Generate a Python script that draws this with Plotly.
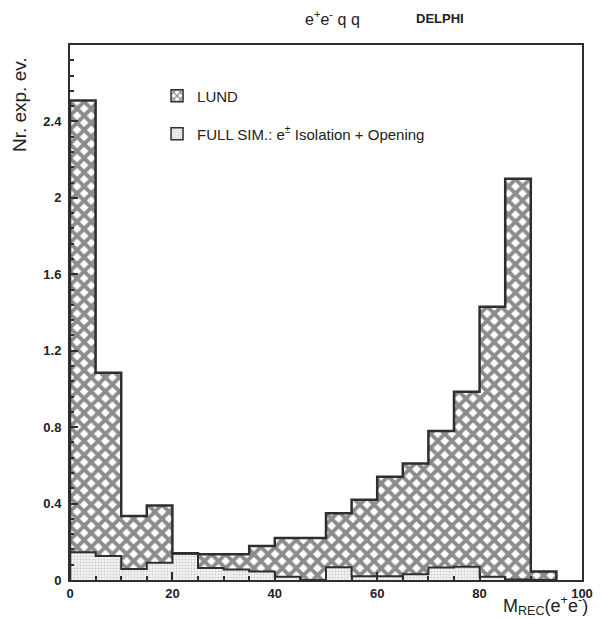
import plotly.graph_objects as go

# ---- data ----
bin_edges = [0, 5, 10, 15, 20, 25, 30, 35, 40, 45, 50, 55, 60, 65, 70, 75, 80, 85, 90, 95]
lund = [2.51, 1.085, 0.335, 0.39, 0.14, 0.135, 0.135, 0.178, 0.22, 0.22,
        0.35, 0.42, 0.54, 0.61, 0.78, 0.985, 1.43, 2.10, 0.045]
fullsim = [0.145, 0.125, 0.057, 0.09, 0.138, 0.063, 0.055, 0.045, 0.017, 0.0,
           0.067, 0.02, 0.02, 0.03, 0.065, 0.07, 0.017, 0.003, 0.0]
y_ticks = [0, 0.4, 0.8, 1.2, 1.6, 2, 2.4]
y_tick_text = ["0", "0.4", "0.8", "1.2", "1.6", "2", "2.4"]
x_ticks = [0, 20, 40, 60, 80, 100]
x_tick_text = ["0", "20", "40", "60", "80", "100"]
names = ["LUND", "FULL SIM.: e<sup>±</sup> Isolation + Opening"]

bin_w = 5
centers = [e + bin_w / 2 for e in bin_edges[:-1]]


def step_xy(vals):
    xs = [bin_edges[0]] + bin_edges[:-1] + [bin_edges[-1], bin_edges[-1]]
    ys = [0] + list(vals) + [vals[-1], 0]
    return xs, ys


line_col = "#2e2e2e"
hatch = dict(shape="x", fgcolor="#1a1a1a", bgcolor="white", size=10, solidity=0.62)
dots = dict(shape=".", fgcolor="#a8a8a8", bgcolor="white", size=3, solidity=0.5)

fig = go.Figure()

fig.add_trace(go.Bar(x=centers, y=lund, width=bin_w, showlegend=False,
                     marker=dict(color="white", line=dict(width=0), pattern=hatch)))
fig.add_trace(go.Bar(x=centers, y=fullsim, width=bin_w, showlegend=False,
                     marker=dict(color="white", line=dict(width=0), pattern=dots)))

xs, ys = step_xy(lund)
fig.add_trace(go.Scatter(x=xs, y=ys, mode="lines", line=dict(shape="hv", color=line_col, width=2.5),
                         showlegend=False, hoverinfo="skip"))
xs, ys = step_xy(fullsim)
fig.add_trace(go.Scatter(x=xs, y=ys, mode="lines", line=dict(shape="hv", color=line_col, width=2),
                         showlegend=False, hoverinfo="skip"))

# legend-only entries
fig.add_trace(go.Bar(x=[None], y=[None], name=names[0], legend="legend",
                     marker=dict(color="white", line=dict(width=1.5, color=line_col),
                                 pattern=dict(shape="x", fgcolor="#1a1a1a", bgcolor="white",
                                              size=6, solidity=0.45))))
fig.add_trace(go.Bar(x=[None], y=[None], name=names[1], legend="legend2",
                     marker=dict(color="white", line=dict(width=1.5, color=line_col),
                                 pattern=dots)))

tick_font = dict(family="Liberation Sans, Arial, sans-serif", size=13, color="#222")
leg_font = dict(size=15, family="Liberation Sans, Arial, sans-serif", color="#222")
fig.update_layout(
    width=603, height=619,
    margin=dict(l=70, r=10, t=45, b=39),
    paper_bgcolor="white", plot_bgcolor="white",
    barmode="overlay", bargap=0,
    font=dict(family="Liberation Sans, Arial, sans-serif", color="#222"),
    legend=dict(x=0.17, y=(580 - 96) / 535, xanchor="left", yanchor="middle",
                bgcolor="rgba(0,0,0,0)", font=leg_font),
    legend2=dict(x=0.17, y=(580 - 134) / 535, xanchor="left", yanchor="middle",
                 bgcolor="rgba(0,0,0,0)", font=leg_font),
    xaxis=dict(range=[0, 100], tickvals=x_ticks, ticktext=["<b>%s</b>" % t for t in x_tick_text],
               ticks="inside", ticklen=8, tickwidth=1.5, tickcolor=line_col,
               minor=dict(ticks="inside", dtick=5, ticklen=4, tickcolor=line_col),
               showline=True, linecolor=line_col, linewidth=2, mirror=True,
               showgrid=False, zeroline=False, tickfont=tick_font),
    yaxis=dict(range=[0, 2.8], tickvals=y_ticks, ticktext=["<b>%s</b>" % t for t in y_tick_text],
               ticks="inside", ticklen=8, tickwidth=1.5, tickcolor=line_col,
               minor=dict(ticks="inside", dtick=0.08, ticklen=4, tickcolor=line_col),
               showline=True, linecolor=line_col, linewidth=2, mirror=True,
               showgrid=False, zeroline=False, tickfont=tick_font, ticklabelstandoff=4),
    annotations=[
        dict(text="e<sup>+</sup>e<sup>-</sup> q q", xref="paper", yref="paper",
             x=(338 - 70) / 523, y=1 + (45 - 18) / 535, showarrow=False,
             font=dict(size=16), xanchor="center", yanchor="middle"),
        dict(text="<b>DELPHI</b>", xref="paper", yref="paper",
             x=(448 - 70) / 523, y=1 + (45 - 18) / 535, showarrow=False,
             font=dict(size=13), xanchor="center", yanchor="middle"),
        dict(text="Nr. exp. ev.", xref="paper", yref="paper", textangle=-90,
             x=(18 - 70) / 523, y=(580 - 105) / 535, showarrow=False,
             font=dict(size=19), xanchor="center", yanchor="middle"),
        dict(text="M<sub>REC</sub>(e<sup>+</sup>e<sup>-</sup>)", xref="paper", yref="paper",
             x=(601 - 70) / 523, y=-(620 - 580) / 535, showarrow=False,
             font=dict(size=18), xanchor="right", yanchor="bottom"),
    ],
)

fig.write_html("out.html")
